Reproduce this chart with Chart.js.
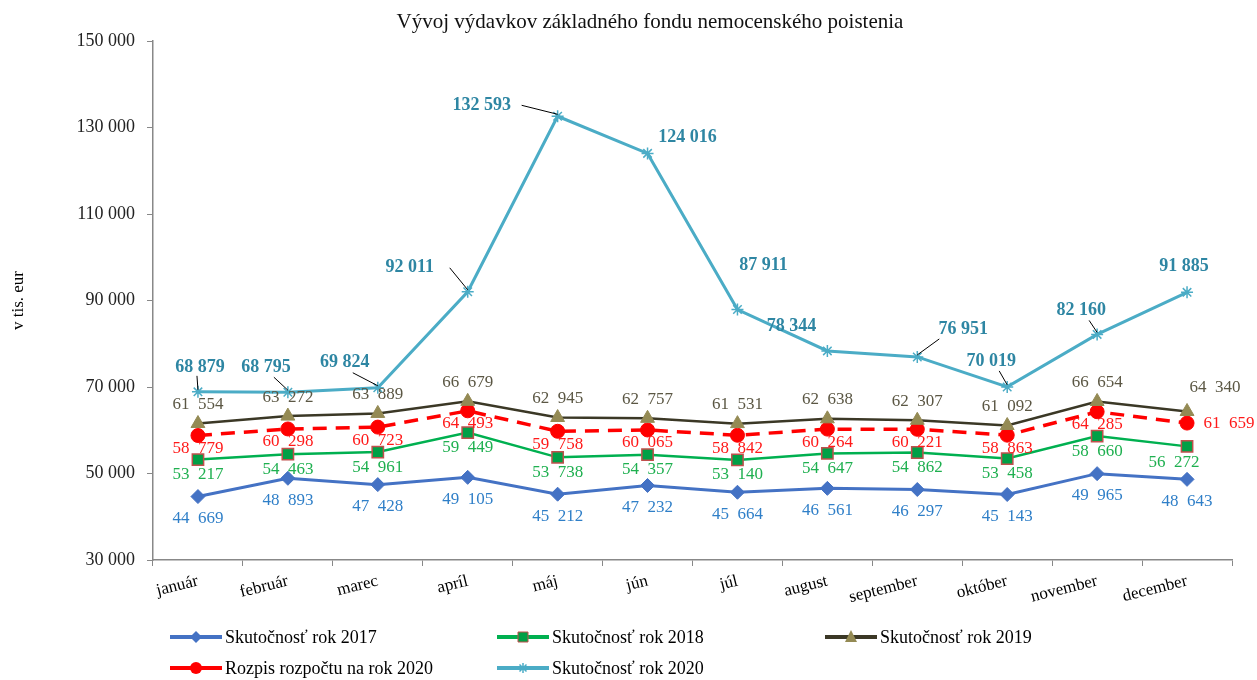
<!DOCTYPE html>
<html>
<head>
<meta charset="utf-8">
<script src="https://cdn.jsdelivr.net/npm/chart.js@4.4.0/dist/chart.umd.min.js"></script>
<style>
  html, body { margin: 0; padding: 0; background: #fff; }
  #wrap { width: 1257px; height: 680px; }
</style>
</head>
<body>
<div id="wrap"><canvas id="myChart" width="1257" height="680"></canvas></div>
<script>
var months = ['január', 'február', 'marec', 'apríl', 'máj', 'jún', 'júl', 'august', 'september', 'október', 'november', 'december'];

var skut2017 = [44669, 48893, 47428, 49105, 45212, 47232, 45664, 46561, 46297, 45143, 49965, 48643];
var skut2018 = [53217, 54463, 54961, 59449, 53738, 54357, 53140, 54647, 54862, 53458, 58660, 56272];
var skut2019 = [61554, 63272, 63889, 66679, 62945, 62757, 61531, 62638, 62307, 61092, 66654, 64340];
var rozpis2020 = [58779, 60298, 60723, 64493, 59758, 60065, 58842, 60264, 60221, 58863, 64285, 61659];
var skut2020 = [68879, 68795, 69824, 92011, 132593, 124016, 87911, 78344, 76951, 70019, 82160, 91885];

var yTicks = [30000, 50000, 70000, 90000, 110000, 130000, 150000];

// label offsets for the 2020 series (label centre relative to point) + leader flag
var off2020 = [[2, -25, 1], [-22, -25, 1], [-33, -25, 1], [-58, -24, 1], [-76, -11, 1], [40, -16, 0],
               [26, -44, 0], [-36, -25, 0], [46, -28, 1], [-16, -26, 1], [-16, -24, 1], [-3, -26, 0]];

function fmt(v, sep) {
    return String(v).replace(/\B(?=(\d{3})+(?!\d))/g, sep || '\u2002');
}

var serif = "'Liberation Serif', 'DejaVu Serif', serif";

var labelStyles = [
    { color: '#2F7FC8', font: '17px ' + serif, dx: 0, dy: 22 },
    { color: '#1FB050', font: '17px ' + serif, dx: 0, dy: 15 },
    { color: '#5B5744', font: '17px ' + serif, dx: 0, dy: -19 },
    { color: '#FF1A1A', font: '17px ' + serif, dx: 0, dy: 13 },
    { color: '#2E86A3', font: 'bold 18px ' + serif, dx: 0, dy: -25 }
];

var dataLabels = {
    id: 'dataLabels',
    afterDatasetsDraw: function (chart) {
        var ctx = chart.ctx;
        ctx.save();
        ctx.textAlign = 'center';
        ctx.textBaseline = 'middle';
        chart.data.datasets.forEach(function (ds, di) {
            var meta = chart.getDatasetMeta(di);
            var st = labelStyles[di];
            meta.data.forEach(function (pt, i) {
                var dx = st.dx, dy = st.dy;
                var sep = '\u2002';
                if (di === 4) {
                    sep = ' ';
                    dx = off2020[i][0];
                    dy = off2020[i][1];
                    if (off2020[i][2]) {
                        // leader line
                        ctx.strokeStyle = '#000';
                        ctx.lineWidth = 1;
                        ctx.beginPath();
                        var lx = pt.x + dx, ly = pt.y + dy;
                        var sx, sy;
                        if (dx < -40) { sx = lx + 40; sy = ly; }
                        else if (dx > 30) { sx = lx - 24; sy = ly + 10; }
                        else if (dx > 0) { sx = lx - 3; sy = ly + 9; }
                        else { sx = lx + 8; sy = ly + 10; }
                        ctx.moveTo(sx, sy);
                        ctx.lineTo(pt.x, pt.y - 2);
                        ctx.stroke();
                    }
                }
                if (di === 3 && i === 11) { dx = 42; dy = 0; }
                if (di === 2 && i === 11) { dx = 28; dy = -24; }
                if (di === 1 && i === 11) { dx = -13; dy = 16; }
                ctx.fillStyle = st.color;
                ctx.font = st.font;
                ctx.fillText(fmt(ds.data[i], sep), pt.x + dx, pt.y + dy);
            });
        });
        ctx.restore();
    }
};

var legendItems = [
    { text: 'Skutočnosť rok 2017', x: 170, y: 637, ds: 0 },
    { text: 'Skutočnosť rok 2018', x: 497, y: 637, ds: 1 },
    { text: 'Skutočnosť rok 2019', x: 825, y: 637, ds: 2 },
    { text: 'Rozpis rozpočtu na rok 2020', x: 170, y: 668, ds: 3 },
    { text: 'Skutočnosť rok 2020', x: 497, y: 668, ds: 4 }
];

function legendMarker(ctx, ds, x, y) {
    var r = 5;
    ctx.fillStyle = ds.pointBackgroundColor;
    ctx.strokeStyle = ds.pointBorderColor;
    ctx.lineWidth = 1;
    ctx.beginPath();
    if (ds.pointStyle === 'rectRot') {
        ctx.moveTo(x, y - r - 1); ctx.lineTo(x + r + 1, y); ctx.lineTo(x, y + r + 1); ctx.lineTo(x - r - 1, y);
        ctx.closePath(); ctx.fill();
    } else if (ds.pointStyle === 'rect') {
        ctx.rect(x - r, y - r, 2 * r, 2 * r); ctx.fill(); ctx.stroke();
    } else if (ds.pointStyle === 'triangle') {
        ctx.moveTo(x, y - r - 2); ctx.lineTo(x + r + 1, y + r); ctx.lineTo(x - r - 1, y + r);
        ctx.closePath(); ctx.fill();
    } else if (ds.pointStyle === 'circle') {
        ctx.arc(x, y, r + 1, 0, Math.PI * 2); ctx.fill();
    } else {
        ctx.lineWidth = 1.5;
        ctx.moveTo(x - r, y); ctx.lineTo(x + r, y);
        ctx.moveTo(x, y - r); ctx.lineTo(x, y + r);
        ctx.moveTo(x - r * 0.7, y - r * 0.7); ctx.lineTo(x + r * 0.7, y + r * 0.7);
        ctx.moveTo(x - r * 0.7, y + r * 0.7); ctx.lineTo(x + r * 0.7, y - r * 0.7);
        ctx.stroke();
    }
}

var extras = {
    id: 'extras',
    afterDraw: function (chart) {
        var ctx = chart.ctx;
        ctx.save();
        // title
        ctx.fillStyle = '#111';
        ctx.font = '21px ' + serif;
        ctx.textAlign = 'center';
        ctx.textBaseline = 'middle';
        ctx.fillText('Vývoj výdavkov základného fondu nemocenského poistenia', 650, 22);
        // legend
        ctx.textAlign = 'left';
        ctx.font = '18px ' + serif;
        legendItems.forEach(function (it) {
            var ds = chart.data.datasets[it.ds];
            ctx.strokeStyle = ds.borderColor;
            ctx.lineWidth = 4;
            ctx.beginPath();
            ctx.moveTo(it.x, it.y);
            ctx.lineTo(it.x + 52, it.y);
            ctx.stroke();
            legendMarker(ctx, ds, it.x + 26, it.y);
            ctx.fillStyle = '#000';
            ctx.fillText(it.text, it.x + 55, it.y + 1);
        });
        ctx.restore();
    }
};

var ctx = document.getElementById('myChart').getContext('2d');

var myChart = new Chart(ctx, {
    type: 'line',
    data: {
        labels: months,
        datasets: [{
            label: 'Skutočnosť rok 2017',
            data: skut2017,
            borderColor: '#4472C4',
            borderWidth: 3,
            pointStyle: 'rectRot',
            pointRadius: 7,
            pointBackgroundColor: '#4472C4',
            pointBorderColor: '#4472C4',
            pointBorderWidth: 1,
            tension: 0
        }, {
            label: 'Skutočnosť rok 2018',
            data: skut2018,
            borderColor: '#00B050',
            borderWidth: 2.5,
            pointStyle: 'rect',
            pointRadius: 8,
            pointBackgroundColor: '#00A046',
            pointBorderColor: '#C0504D',
            pointBorderWidth: 1.5,
            tension: 0
        }, {
            label: 'Skutočnosť rok 2019',
            data: skut2019,
            borderColor: '#3B3826',
            borderWidth: 2.5,
            pointStyle: 'triangle',
            pointRadius: 8,
            pointBackgroundColor: '#948A54',
            pointBorderColor: '#948A54',
            pointBorderWidth: 1,
            tension: 0
        }, {
            label: 'Rozpis rozpočtu na rok 2020',
            data: rozpis2020,
            borderColor: '#FF0000',
            borderWidth: 3.5,
            borderDash: [14, 9],
            pointStyle: 'circle',
            pointRadius: 7,
            pointBackgroundColor: '#FF0000',
            pointBorderColor: '#FF0000',
            pointBorderWidth: 1,
            tension: 0
        }, {
            label: 'Skutočnosť rok 2020',
            data: skut2020,
            borderColor: '#4BACC6',
            borderWidth: 3,
            pointStyle: 'star',
            pointRadius: 6,
            pointBackgroundColor: '#4BACC6',
            pointBorderColor: '#4BACC6',
            pointBorderWidth: 1.5,
            tension: 0
        }]
    },
    options: {
        responsive: false,
        animation: false,
        layout: { padding: { left: 0, right: 25, top: 41, bottom: 65 } },
        plugins: {
            legend: { display: false },
            title: { display: false },
            tooltip: { enabled: false }
        },
        scales: {
            x: {
                offset: true,
                afterFit: function (s) { s.height = 55; },
                grid: { display: true, drawOnChartArea: false, offset: true, tickLength: 6, color: '#888' },
                border: { color: '#888', width: 1.5 },
                ticks: {
                    minRotation: 14, maxRotation: 14,
                    color: '#000',
                    font: { family: serif, size: 17 },
                    padding: 5
                }
            },
            y: {
                min: 30000,
                max: 150000,
                afterFit: function (s) { s.width = 153; },
                afterBuildTicks: function (s) {
                    s.ticks = yTicks.map(function (v) { return { value: v }; });
                },
                grid: { display: true, drawOnChartArea: false, tickLength: 6, color: '#888' },
                border: { color: '#888', width: 1.5 },
                title: {
                    display: true,
                    text: 'v tis. eur',
                    color: '#000',
                    font: { family: serif, size: 17 },
                    padding: { top: 8, bottom: 0 }
                },
                ticks: {
                    color: '#222',
                    font: { family: serif, size: 18 },
                    padding: 12,
                    callback: function (v) { return fmt(v, ' '); }
                }
            }
        }
    },
    plugins: [dataLabels, extras]
});
</script>
</body>
</html>
